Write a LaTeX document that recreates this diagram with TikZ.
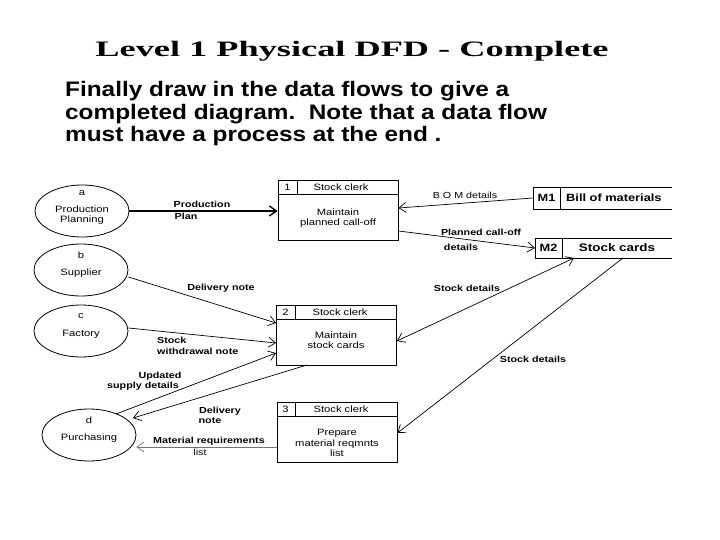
\documentclass[tikz,border=0pt]{standalone}
\usepackage{fontspec}
\setmainfont{Liberation Sans}[FakeStretch=1.22]
\newfontfamily\parafont{Liberation Sans}[FakeStretch=1.16]
\newfontfamily\titlefont{Liberation Serif}
\usetikzlibrary{arrows.meta,shapes.geometric}
\begin{document}
\begin{tikzpicture}[x=1pt,y=-1pt,
  ent/.style={draw,ellipse,minimum width=94pt,minimum height=52pt,inner sep=0pt,line width=0.8pt},
  proc/.style={draw,rectangle,minimum width=120pt,minimum height=60pt,inner sep=0pt,line width=0.8pt},
  txt/.style={inner sep=0pt,font=\fontsize{9.2}{10.5}\selectfont,align=center},
  ftxt/.style={inner sep=0pt,font=\bfseries\fontsize{8.8}{10}\selectfont,align=center},
  para/.style={inner sep=0pt,anchor=base west,font=\parafont\bfseries\fontsize{21}{23}\selectfont},
  stxt/.style={inner sep=0pt,font=\bfseries\fontsize{10.5}{12}\selectfont},
  flow/.style={line width=0.7pt,-{Straight Barb[length=7pt,width=10pt]}},
  sline/.style={line width=0.8pt}]
\useasboundingbox (0,0) rectangle (720,540);
% title and text
\node[inner sep=0pt,anchor=base,font=\titlefont\bfseries\fontsize{22}{24}\selectfont] (title) at (352,57) {\scalebox{1.65}[1]{Level 1 Physical DFD - Complete}};
\node[para] (l1) at (65,97) {Finally draw in the data flows to give a};
\node[para] (l2) at (65,120) {completed diagram.\ \ Note that a data flow};
\node[para] (l3) at (65,142) {must have a process at the end .};
% entities
\node[ent] (a) at (82,211) {};
\node[txt] at (82,193) {a};
\node[txt] at (82,215) {Production\\Planning};
\node[ent] (b) at (81,270) {};
\node[txt] at (81,255) {b};
\node[txt] at (81,273) {Supplier};
\node[ent] (c) at (81,331) {};
\node[txt] at (81,316) {c};
\node[txt] at (81,334) {Factory};
\node[ent] (d) at (89,435) {};
\node[txt] at (89,420) {d};
\node[txt] at (89,438) {Purchasing};
% processes
\node[proc] (p1) at (338,210.5) {};
\draw[sline] (278,194) -- (398,194) (297,180.5) -- (297,194);
\node[txt] at (287.5,187) {1};
\node[txt] at (341,187) {Stock clerk};
\node[txt] at (338,218) {Maintain\\planned call-off};
\node[proc] (p2) at (336.5,335) {};
\draw[sline] (276.5,319) -- (396.5,319) (295,305) -- (295,319);
\node[txt] at (285.5,312) {2};
\node[txt] at (340,312) {Stock clerk};
\node[txt] at (336,340) {Maintain\\stock cards};
\node[proc] (p3) at (337,432) {};
\draw[sline] (277,416) -- (397,416) (295,402) -- (295,416);
\node[txt] at (285.5,409) {3};
\node[txt] at (341,409) {Stock clerk};
\node[txt] at (337,443) {Prepare\\material reqmnts\\list};
% stores
\coordinate (m1) at (533,198);
\draw[sline] (672,187) -- (533,187) -- (533,209) -- (672,209) (560,187) -- (560,209);
\node[stxt] at (546.5,198) {M1};
\node[stxt,anchor=west] at (566,198) {Bill of materials};
\coordinate (m2) at (535,248);
\draw[sline] (672,238) -- (535,238) -- (535,258) -- (672,258) (562,238) -- (562,258);
\node[stxt] at (548.5,248) {M2};
\node[stxt,font=\bfseries\fontsize{11}{12}\selectfont] at (617,248) {Stock cards};
\coordinate (m2a) at (574,258);
\coordinate (m2b) at (623,258);
% flows
\draw[flow,line width=1.4pt] (a.east) -- (p1.west |- a.east);
\node[ftxt] at (202,204) {Production};
\node[ftxt] at (186,216) {Plan};
\draw[flow] (m1) -- (p1.east |- 0,208);
\node[ftxt,font=\fontsize{8.8}{10}\selectfont] at (465,195) {B O M details};
\draw[flow] (p1.east |- 0,231) -- (m2);
\node[ftxt] at (481,232) {Planned call-off};
\node[ftxt] at (461,247) {details};
\draw[flow] (b.east |- 0,277) -- (p2.west |- 0,323);
\node[ftxt] at (221,288) {Delivery note};
\draw[flow] (c.east |- 0,328) -- (p2.west |- 0,343);
\node[ftxt,anchor=west] at (157,340) {Stock};
\node[ftxt,anchor=west] at (157,351) {withdrawal note};
\coordinate (d1) at (116,414);
\draw[flow] (d1) -- (p2.west |- 0,353);
\node[ftxt] at (160,376) {Updated};
\node[ftxt] at (143,386) {supply details};
\coordinate (p2b) at (307,365);
\draw[flow] (p2b) -- (133,418);
\node[ftxt] at (220,411) {Delivery};
\node[ftxt] at (210,421) {note};
\draw[flow,{Straight Barb[length=7pt,width=10pt]}-{Straight Barb[length=7pt,width=10pt]}] (p2.east |- 0,341) -- (m2a);
\node[ftxt] at (467,288) {Stock details};
\draw[flow] (m2b) -- (p3.east |- 0,433);
\node[ftxt] at (533,359) {Stock details};
\draw[flow,draw=black!55] (p3.west |- 0,447) -- (d.east |- 0,447);
\node[ftxt] at (209,441) {Material requirements};
\node[ftxt,font=\fontsize{8.8}{10}\selectfont] at (200,452) {list};
\end{tikzpicture}
\end{document}
